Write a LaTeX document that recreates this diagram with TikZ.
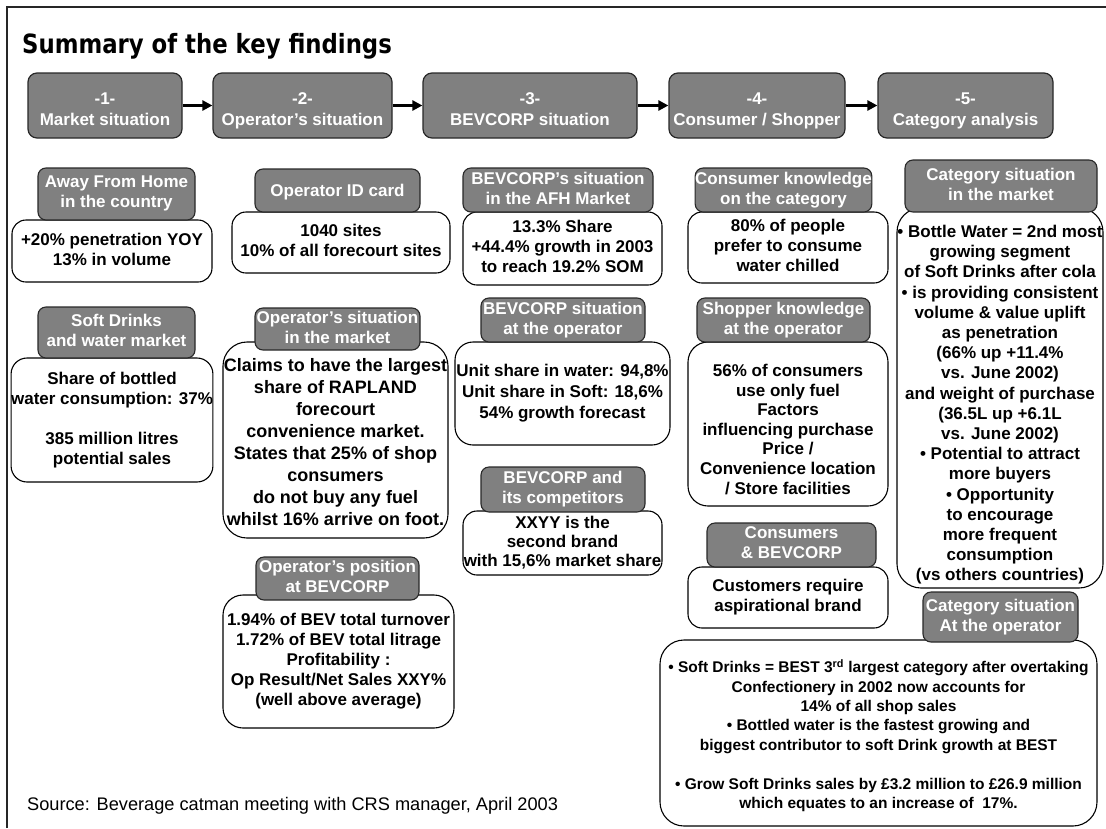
\documentclass[tikz,border=0pt]{standalone}
\usepackage{fontspec}
\setmainfont{Liberation Sans}
\newfontfamily\titlefont{DejaVu Sans}[FakeStretch=0.86]
\usetikzlibrary{arrows.meta}
\definecolor{boxgray}{RGB}{128,128,128}
\definecolor{edgegray}{RGB}{40,40,40}
% line strut balanced on the cap height, so multi-line texts centre optically
\newcommand{\capstrut}{\rule[-0.2\baselineskip]{0pt}{\baselineskip}}
\tikzset{
  strutted/.style={execute at begin node=\capstrut, execute at end node=\capstrut},
  hdr/.style={draw=edgegray, fill=boxgray, rounded corners=9pt, line width=1.2pt, inner sep=0pt},
  sub/.style={draw=edgegray, fill=boxgray, rounded corners=8pt, line width=1.1pt, inner sep=0pt,
    text=white, align=center, strutted, font=\bfseries\fontsize{17}{20}\selectfont},
  card/.style={draw=black, fill=white, rounded corners=14pt, line width=1.1pt, inner sep=0pt,
    align=center, strutted, font=\bfseries\fontsize{17}{20}\selectfont},
  cardtext/.style={inner sep=0pt, align=center, strutted, font=\bfseries\fontsize{17}{20}\selectfont},
  hdrtext/.style={text=white, align=center, inner sep=0pt, strutted, font=\bfseries\fontsize{17}{21}\selectfont},
  flow/.style={line width=2.6pt, -{Triangle[length=10pt,width=10pt]}},
}
\begin{document}
\begin{tikzpicture}[x=1pt, y=-1pt]
\useasboundingbox (0,0) rectangle (1106,828);

% page frame
\draw[line width=1.6pt, black!85] (7,828) -- (7,7) -- (1106,7);

% title
\node[anchor=base west, inner sep=0pt, font=\titlefont\bfseries\fontsize{26.5}{30}\selectfont] (title) at (22,53) {Summary of the key findings};

% process steps
\node[hdr, minimum width=154, minimum height=65] (h1) at (105,105.5) {};
\node[hdr, minimum width=179, minimum height=65] (h2) at (302.5,105.5) {};
\node[hdr, minimum width=214, minimum height=65] (h3) at (530,105.5) {};
\node[hdr, minimum width=176, minimum height=65] (h4) at (757,105.5) {};
\node[hdr, minimum width=175, minimum height=65] (h5) at (965.5,105.5) {};
\node[hdrtext] (t1) at (105,111) {-1-\\Market situation};
\node[hdrtext] (t2) at (302.5,111) {-2-\\Operator’s situation};
\node[hdrtext] (t3) at (530,111) {-3-\\BEVCORP situation};
\node[hdrtext] (t4) at (757,111) {-4-\\Consumer / Shopper};
\node[hdrtext] (t5) at (965.5,111) {-5-\\Category analysis};
\draw[flow] (h1.east) -- (h2.west);
\draw[flow] (h2.east) -- (h3.west);
\draw[flow] (h3.east) -- (h4.west);
\draw[flow] (h4.east) -- (h5.west);

% column 1: market situation
\node[card, minimum width=200, minimum height=62] (w1a) at (112,251) {+20\% penetration YOY\\13\% in volume};
\node[sub, minimum width=157, minimum height=52] (g1a) at (116.5,194) {Away From Home\\in the country};
\node[card, minimum width=200, minimum height=124, rounded corners=16pt] (w1b) at (112,420) {Share of bottled\\water consumption: 37\%\\[20pt]385 million litres\\potential sales};
\node[sub, minimum width=157, minimum height=51] (g1b) at (116.5,332.5) {Soft Drinks\\and water market};

% column 2: operator's situation
\node[card, minimum width=218, minimum height=61] (w2a) at (341,242.5) {1040 sites\\10\% of all forecourt sites};
\node[sub, minimum width=165, minimum height=43] (g2a) at (337.5,190.5) {Operator ID card};
\node[card, minimum width=225, minimum height=196, rounded corners=24pt] (w2b) at (335.5,440) {};
\node[cardtext, font=\bfseries\fontsize{18}{22}\selectfont] (w2bt) at (335.5,444)
  {Claims to have the largest\\share of RAPLAND\\forecourt\\convenience market.\\States that 25\% of shop\\consumers\\do not buy any fuel\\whilst 16\% arrive on foot.};
\node[sub, minimum width=165, minimum height=42] (g2b) at (337.5,329) {Operator’s situation\\in the market};
\node[card, minimum width=231, minimum height=133, rounded corners=20pt] (w2c) at (338.5,661.5)
  {1.94\% of BEV total turnover\\1.72\% of BEV total litrage\\Profitability :\\Op Result/Net Sales XXY\%\\(well above average)};
\node[sub, minimum width=163, minimum height=43] (g2c) at (337.5,578.5) {Operator’s position\\at BEVCORP};

% column 3: BEVCORP situation
\node[card, minimum width=199, minimum height=73] (w3a) at (562.5,248.5) {13.3\% Share\\+44.4\% growth in 2003\\to reach 19.2\% SOM};
\node[sub, minimum width=190, minimum height=44] (g3a) at (558,190) {BEVCORP’s situation\\in the AFH Market};
\node[card, minimum width=215, minimum height=103, rounded corners=18pt, font=\bfseries\fontsize{17}{21}\selectfont] (w3b) at (562.5,393.5)
  {Unit share in water: 94,8\%\\Unit share in Soft: 18,6\%\\54\% growth forecast};
\node[sub, minimum width=164, minimum height=44] (g3b) at (563,320) {BEVCORP situation\\at the operator};
\node[card, minimum width=199, minimum height=64, font=\bfseries\fontsize{17}{19}\selectfont] (w3c) at (562.5,543)
  {XXYY is the\\second brand\\with 15,6\% market share};
\node[sub, minimum width=164, minimum height=45] (g3c) at (563,489.5) {BEVCORP and\\its competitors};

% column 4: consumer / shopper
\node[card, minimum width=200, minimum height=71] (w4a) at (788,247.5) {80\% of people\\prefer to consume\\water chilled};
\node[sub, minimum width=173, minimum height=44] (g4a) at (783.5,190) {Consumer knowledge\\on the category};
\node[card, minimum width=200, minimum height=164, rounded corners=20pt] (w4b) at (788,424) {};
\node[cardtext, font=\bfseries\fontsize{17}{19.6}\selectfont] (w4bt) at (788,431)
  {56\% of consumers\\use only fuel\\Factors\\influencing purchase\\Price /\\Convenience location\\/ Store facilities};
\node[sub, minimum width=173, minimum height=44] (g4b) at (783.5,320) {Shopper knowledge\\at the operator};
\node[card, minimum width=200, minimum height=61] (w4c) at (788,597.5) {Customers require\\aspirational brand};
\node[sub, minimum width=169, minimum height=44] (g4c) at (791.5,545) {Consumers\\\& BEVCORP};

% column 5: category analysis
\node[card, minimum width=206, minimum height=380, rounded corners=24pt] (w5a) at (1000,398) {};
\node[cardtext, font=\bfseries\fontsize{17}{20.2}\selectfont] (w5at) at (1000,405)
  {• Bottle Water = 2nd most\\growing segment\\of Soft Drinks after cola\\• is providing consistent\\volume \& value uplift\\as penetration\\(66\% up +11.4\%\\vs. June 2002)\\and weight of purchase\\(36.5L up +6.1L\\vs. June 2002)\\• Potential to attract\\more buyers\\• Opportunity\\to encourage\\more frequent\\consumption\\(vs others countries)};
\node[sub, minimum width=192, minimum height=52] (g5a) at (1001,186) {Category situation\\in the market};
\node[card, minimum width=437, minimum height=186, rounded corners=24pt] (w5b) at (878.5,733) {};
\node[cardtext, font=\bfseries\fontsize{15.5}{19.4}\selectfont] (w5bt) at (878.5,736)
  {• Soft Drinks = BEST 3\textsuperscript{rd} largest category after overtaking\\Confectionery in 2002 now accounts for\\14\% of all shop sales\\• Bottled water is the fastest growing and\\biggest contributor to soft Drink growth at BEST\\[19.4pt]• Grow Soft Drinks sales by £3.2 million to £26.9 million\\which equates to an increase of\ \ 17\%.};
\node[sub, minimum width=155, minimum height=50] (g5b) at (1000.5,617) {Category situation\\At the operator};

% source line
\node[anchor=base west, inner sep=0pt, font=\fontsize{18.2}{21}\selectfont] (src) at (27,810) {Source: Beverage catman meeting with CRS manager, April 2003};
\end{tikzpicture}
\end{document}
